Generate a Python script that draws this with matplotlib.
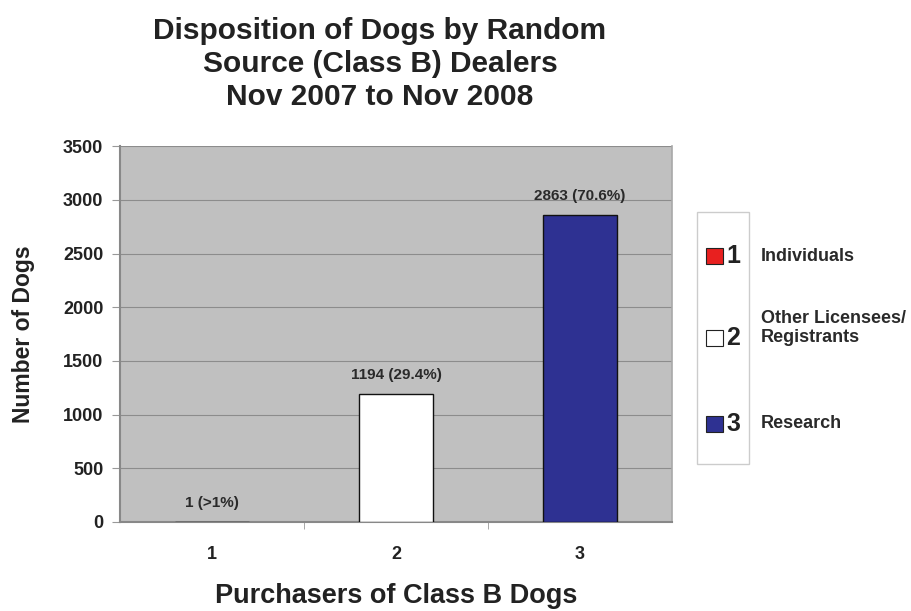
import matplotlib.pyplot as plt
import matplotlib.patches as mpatches

# ── Data ──────────────────────────────────────────────────────────────────────
categories = ["1", "2", "3"]
dogs = [1, 1194, 2863]
shares = [">1%", "29.4%", "70.6%"]
legend_names = ["Individuals", "Other Licensees/\nRegistrants", "Research"]

bar_colors = ["#e8201f", "#ffffff", "#2e3192"]

plt.rcParams["font.family"] = ["Liberation Sans", "DejaVu Sans"]
plt.rcParams["font.weight"] = "bold"

fig = plt.figure(figsize=(9.11, 6.11), dpi=100)
ax = fig.add_axes([0.1317, 0.1457, 0.606, 0.615])

x = range(len(categories))
ax.set_facecolor("#c0c0c0")
ax.bar(x, dogs, width=0.40, color=bar_colors, edgecolor="#111111", linewidth=1.0, zorder=3)

for xi, v, s in zip(x, dogs, shares):
    ax.text(xi, v + 110, f"{v} ({s})", ha="center", va="bottom",
            fontsize=11, fontweight="bold", color="#2a2a2a", zorder=4)

ax.set_ylim(0, 3500)
ax.set_xlim(-0.5, 2.5)
ax.set_yticks(range(0, 3501, 500))
ax.yaxis.grid(True, color="#8c8c8c", linewidth=0.8, zorder=0)
ax.set_xticks(list(x))
ax.set_xticklabels(categories)
ax.set_xticks([0.5, 1.5], minor=True)
ax.tick_params(axis="x", which="major", length=0, pad=17, labelsize=13)
ax.tick_params(axis="x", which="minor", length=5, color="#999999")
ax.tick_params(axis="y", length=6, color="#999999", labelsize=13, pad=6)
for lbl in ax.get_xticklabels() + ax.get_yticklabels():
    lbl.set_fontweight("bold")
    lbl.set_color("#222222")

ax.spines["top"].set_visible(False)
ax.spines["right"].set_color("#a8a8a8")
ax.spines["right"].set_linewidth(1.2)
for side in ("left", "bottom"):
    ax.spines[side].set_color("#888888")
    ax.spines[side].set_linewidth(1.5)

ax.set_ylabel("Number of Dogs", fontsize=16.5, fontweight="bold", color="#222222", labelpad=20)
ax.set_xlabel("Purchasers of Class B Dogs", fontsize=19.5, fontweight="bold",
              color="#222222", labelpad=15)

fig.text(0.417, 0.972, "Disposition of Dogs by Random\nSource (Class B) Dealers\nNov 2007 to Nov 2008",
         ha="center", va="top", fontsize=21.5, fontweight="bold", color="#222222",
         linespacing=1.22)

# legend: white box holding the swatches and numbers, names to the right
box = mpatches.Rectangle((697 / 911, 1 - 464 / 611), 52 / 911, 252 / 611,
                         transform=fig.transFigure, facecolor="white",
                         edgecolor="#cccccc", linewidth=1.0)
fig.patches.append(box)
rows_y = [256, 338, 424]
text_y = [256, 328, 424]
for cat, name, col, yy, ty in zip(categories, legend_names, bar_colors, rows_y, text_y):
    yf = 1 - yy / 611
    sw = mpatches.Rectangle((706 / 911, yf - 8 / 611), 17 / 911, 16 / 611,
                            transform=fig.transFigure, facecolor=col,
                            edgecolor="#222222", linewidth=0.8)
    fig.patches.append(sw)
    fig.text(726 / 911, yf, cat, ha="left", va="center", fontsize=18,
             fontweight="bold", color="#222222")
    fig.text(761 / 911, 1 - ty / 611, name, ha="left", va="center", fontsize=13,
             fontweight="bold", color="#2a2a2a", linespacing=1.15)

fig.savefig("out.png", dpi=100)
